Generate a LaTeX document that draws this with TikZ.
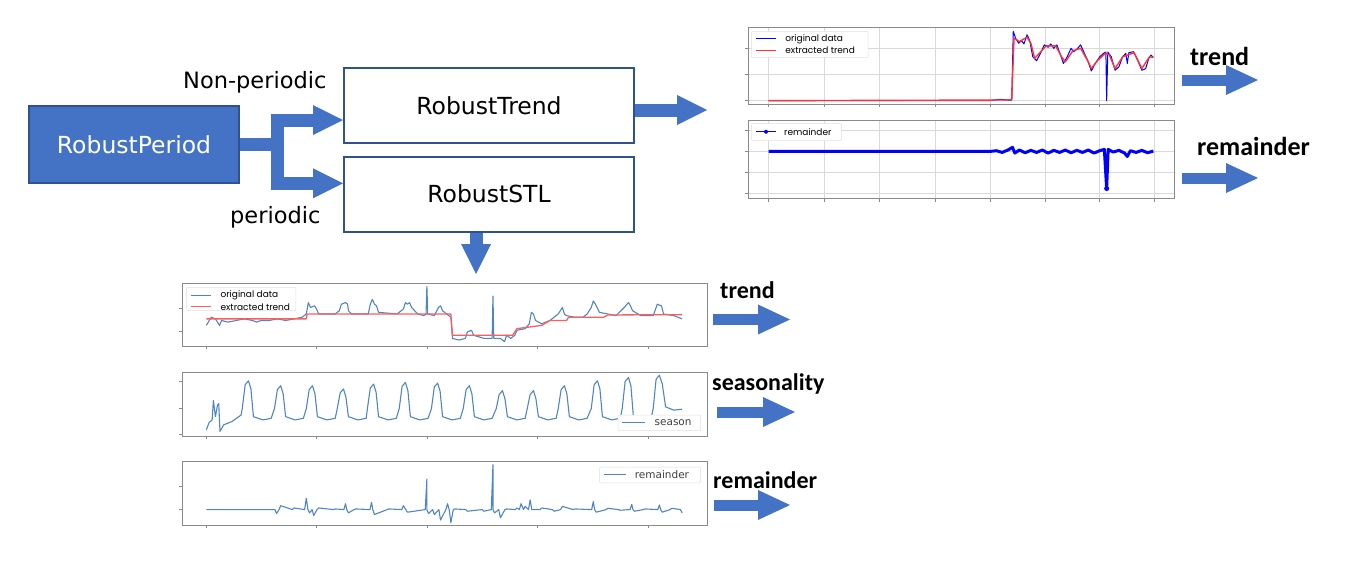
\documentclass[tikz,border=0pt]{standalone}
\usepackage{fontspec}
\usepackage{tikz}
\usetikzlibrary{arrows.meta}
\setmainfont{DejaVu Sans}
\newfontfamily\labelfont{Carlito}
\newfontfamily\legendfont{Poppins}
\definecolor{boxblue}{HTML}{4472C4}
\definecolor{boxedge}{HTML}{2F528F}
\definecolor{mplblue}{HTML}{4F86C2}
\definecolor{mplred}{HTML}{FF5C5C}
\definecolor{framegray}{HTML}{8A8A8A}
\tikzset{
  mainbox/.style={draw=boxedge,fill=boxblue,line width=1.5pt,text=white,
    minimum width=210pt,minimum height=77pt,font=\fontsize{23.5}{27}\selectfont},
  stagebox/.style={draw=boxedge,fill=white,line width=2pt,
    minimum width=290pt,minimum height=75pt,font=\fontsize{23.5}{27}\selectfont},
  branch/.style={anchor=base east,font=\fontsize{22.5}{26}\selectfont},
  blockarrow/.style={draw=boxblue,line width=13pt,
    -{Triangle[length=30pt,width=30pt,line width=0pt]}},
  outarrow/.style={draw=boxblue,line width=11pt,
    -{Triangle[length=32pt,width=30pt,line width=0pt]}},
  outlabel/.style={anchor=base west,inner sep=0pt,font=\labelfont\bfseries\fontsize{26}{30}\selectfont},
  small outlabel/.style={outlabel,font=\labelfont\bfseries\fontsize{24}{28}\selectfont},
  plotframe/.style={draw=framegray,line width=0.8pt},
  gridline/.style={draw=gray!30,line width=0.6pt},
  tick/.style={draw=framegray,line width=0.6pt},
  legendbox/.style={draw=gray!25,fill=white,rounded corners=1pt,line width=0.5pt},
  legendtext/.style={anchor=west,inner sep=0pt,font=\legendfont\fontsize{9}{10}\selectfont},
  mpltext/.style={anchor=west,inner sep=0pt,text=black!75,font=\fontsize{10.5}{12}\selectfont},
  sdata/.style={draw=mplblue,line width=1.1pt,line join=round},
  strend/.style={draw=mplred,line width=1.3pt,line join=round},
  bdata/.style={draw=blue,line width=1pt,line join=round},
  btrend/.style={draw=red!80,line width=1.4pt,line join=round},
  bremain/.style={draw=blue,line width=3pt,line join=round}
}

\begin{document}
\begin{tikzpicture}[x=1pt,y=-1pt]
  \useasboundingbox (0,0) rectangle (1351,565);

  % decomposition blocks
  \node[mainbox] (rp) at (134,144.5) {RobustPeriod};
  \node[stagebox] (rt) at (489,105.5) {RobustTrend};
  \node[stagebox] (stl) at (489,194) {RobustSTL};
  \node[branch] (np) at (330,88) {Non-periodic};
  \node[branch] (pe) at (324,223) {periodic};

  \coordinate (fork) at (277.5,144.5);
  \coordinate (tin) at ([yshift=-14.5pt]rt.west);
  \coordinate (sin) at ([yshift=10.7pt]stl.west);
  \draw[blockarrow] (rp.east) -- (fork) |- (tin);
  \draw[blockarrow] (rp.east) -- (fork) |- (sin);
  \coordinate (tout) at (707,110);
  \draw[blockarrow] ([yshift=-4.5pt]rt.east) -- (tout);
  \coordinate (sout) at (476,274);
  \draw[blockarrow] ([xshift=-13pt]stl.south) -- (sout);

  % RobustTrend output plots
  \begin{scope}[shift={(740,19.56)},x=0.3827pt,y=-0.338pt]
    \foreach \g in {75,220,365,510,655,797,940,1082} {
      \draw[gridline] (\g,22) -- (\g,250);
      \draw[gridline] (\g,298) -- (\g,530);
      \draw[tick] (\g,250) -- (\g,260);
      \draw[tick] (\g,530) -- (\g,540);
    }
    \foreach \g in {85,162,240} {
      \draw[gridline] (22,\g) -- (1135,\g);
      \draw[tick] (12,\g) -- (22,\g);
    }
    \foreach \g in {328,390,452,514} {
      \draw[gridline] (22,\g) -- (1135,\g);
      \draw[tick] (12,\g) -- (22,\g);
    }
    \draw[plotframe] (22,22) rectangle (1135,250);
    \draw[plotframe] (22,298) rectangle (1135,530);

    \draw[bdata] (75,240) -- (650,240) -- (680,236) -- (700,238) -- (710,238)
      -- (714,35) -- (720,55) -- (728,70) -- (735,62) -- (742,72) -- (750,45)
      -- (757,62) -- (765,110) -- (775,122) -- (785,100) -- (795,75) -- (805,82)
      -- (812,72) -- (820,85) -- (828,75) -- (836,100) -- (845,130) -- (855,110)
      -- (865,85) -- (872,95) -- (880,88) -- (890,75) -- (898,95) -- (908,120)
      -- (918,152) -- (928,130) -- (940,110) -- (950,100) -- (956,96) -- (958,240)
      -- (961,96) -- (970,110) -- (980,150) -- (990,140) -- (1000,110) -- (1008,100)
      -- (1012,130) -- (1016,98) -- (1028,95) -- (1038,118) -- (1050,150)
      -- (1060,145) -- (1068,115) -- (1074,105) -- (1080,112);
    \draw[btrend] (75,240) -- (700,238) -- (710,236) -- (716,55) -- (730,65)
      -- (750,52) -- (760,70) -- (770,115) -- (790,90) -- (800,78) -- (825,78)
      -- (840,110) -- (850,125) -- (870,92) -- (890,85) -- (910,125) -- (918,145)
      -- (935,120) -- (955,100) -- (965,105) -- (980,145) -- (1000,110)
      -- (1030,98) -- (1050,145) -- (1070,110) -- (1080,112);
    \draw[bremain] (75,390) -- (655,390)
      \foreach \p/\h in {670/388,685/393,700/386,712/378,718/395,730/386,745/394,
        760/387,775/393,790/386,805/395,820/387,835/393,850/386,865/394,880/387,
        895/393,910/386,925/395,940/388,952/384,958/500,962/384,975/392,990/387,
        1005/395,1012/405,1020/388,1035/393,1050/387,1065/394,1080/389} { -- (\p,\h) };
    \fill[blue] (958,500) circle (2.5pt);

    \draw[legendbox] (30,35) rectangle (335,112);
    \draw[bdata,line width=1.3pt] (42,57) -- (95,57);
    \draw[btrend] (42,92) -- (95,92);
    \node[legendtext] (lgorig) at (118,57) {original data};
    \node[legendtext] (lgtrend) at (118,92) {extracted trend};
    \draw[legendbox] (30,308) rectangle (265,358);
    \draw[bdata,line width=1.3pt] (42,332) -- (95,332);
    \fill[blue] (68,332) circle (2pt);
    \node[legendtext] (lgrem) at (115,332) {remainder};
  \end{scope}

  \coordinate (ta) at (1182,80);
  \coordinate (tb) at (1258,80);
  \draw[outarrow] (ta) -- (tb);
  \node[outlabel] (trendA) at (1190,65) {trend};
  \coordinate (ra) at (1182,178);
  \coordinate (rb) at (1258,178);
  \draw[outarrow] (ra) -- (rb);
  \node[outlabel] (remA) at (1197,155) {remainder};

  % RobustSTL output plots
  \begin{scope}[shift={(170,271.6)},x=0.413pt,y=-0.326pt]
    \draw[plotframe] (30,35) rectangle (1300,228);
    \draw[plotframe] (30,308) rectangle (1300,505);
    \draw[plotframe] (30,583) rectangle (1300,778);
    \foreach \t in {88,355,622,890,1157} {
      \draw[tick] (\t,228) -- (\t,236);
      \draw[tick] (\t,505) -- (\t,513);
      \draw[tick] (\t,778) -- (\t,786);
    }
    \foreach \t in {112,182,338,420,500,660,730}
      \draw[tick] (22,\t) -- (30,\t);

    \draw[sdata] (88,165) -- (95,150) -- (100,140) -- (110,145) -- (120,165)
      -- (125,150) -- (140,155) -- (160,150) -- (180,145) -- (200,150) -- (210,155)
      -- (220,150) -- (240,150) -- (260,145) -- (280,150) -- (300,145) -- (320,140)
      -- (330,130) -- (335,95) -- (340,110) -- (350,105) -- (355,115) -- (360,130)
      -- (400,130) -- (410,120) -- (415,100) -- (425,95) -- (430,100) -- (432,120)
      -- (440,130) -- (480,130) -- (485,100) -- (490,85) -- (495,100) -- (500,105)
      -- (505,125) -- (550,130) -- (565,115) -- (570,95) -- (575,100) -- (580,95)
      -- (585,110) -- (600,130) -- (615,135) -- (620,130) -- (622,45) -- (624,130)
      -- (640,135) -- (650,110) -- (655,105) -- (660,120) -- (670,130) -- (680,140)
      -- (684,205) -- (700,210) -- (715,205) -- (720,185) -- (730,180) -- (735,195)
      -- (760,205) -- (780,205) -- (782,75) -- (784,205) -- (800,205) -- (810,215)
      -- (815,195) -- (825,205) -- (835,195) -- (840,180) -- (860,175) -- (870,160)
      -- (875,125) -- (880,130) -- (885,150) -- (900,160) -- (920,150) -- (930,140)
      -- (940,130) -- (950,110) -- (955,130) -- (960,135) -- (980,140) -- (1000,140)
      -- (1010,130) -- (1020,110) -- (1025,90) -- (1030,100) -- (1040,125)
      -- (1060,130) -- (1080,135) -- (1100,110) -- (1110,95) -- (1115,105)
      -- (1120,120) -- (1140,135) -- (1170,135) -- (1180,100) -- (1190,105)
      -- (1195,130) -- (1220,135) -- (1240,145);
    \draw[strend] (88,145) -- (330,145) -- (332,130) -- (680,130) -- (684,195)
      -- (830,195) -- (840,175) -- (900,165) -- (920,150) -- (960,150) -- (965,140)
      -- (1050,140) -- (1060,133) -- (1240,132);

    \draw[sdata] (88,485) -- (95,462) -- (102,455) -- (105,395) -- (110,445)
      -- (115,410) -- (118,405) -- (121,490) -- (130,470) -- (150,460) -- (172,440)
      \foreach \p/\h in {190/335,268/350,345/350,420/360,493/345,570/340,648/342,
        725/350,805/365,880/365,955/350,1035/335,1110/325}
      { -- ({\p-15},420) -- ({\p-8},{\h+12}) -- (\p,\h) -- ({\p+6},{\h+25})
        -- ({\p+12},445) -- ({\p+35},455) -- ({\p+55},450) }
      -- (1170,420) -- (1177,330) -- (1185,318) -- (1192,345) -- (1200,415)
      -- (1220,425) -- (1240,422);

    \draw[sdata] (88,730) -- (250,730)
      \foreach \p/\h in {258/742,268/718,300/725,330/695,338/740,348/748,360/725,
        400/728,425/712,432/740,450/728,488/708,495/745,530/728,565/718,575/738,
        622/636,626/742,640/745,655/762,672/712,680/770,690/728,720/735,760/735,
        782/592,786/740,800/755,815/728,840/725,850/712,860/720,872/700,880/730,
        900/725,930/735,950/720,980/728,1025/705,1032/738,1060/726,1090/732,
        1118/714,1125/735,1150/728,1185/716,1192/738,1215/726,1240/740}
      { -- ({\p-4},730) -- (\p,\h) };

    \draw[legendbox] (40,48) rectangle (305,120);
    \draw[sdata] (50,72) -- (100,72);
    \draw[strend] (50,108) -- (100,108);
    \node[legendtext] (lgorigB) at (122,72) {original data};
    \node[legendtext] (lgtrendB) at (122,108) {extracted trend};
    \draw[legendbox] (1085,440) rectangle (1285,488);
    \draw[sdata] (1095,462) -- (1150,462);
    \node[mpltext] (lgseason) at (1173,462) {season};
    \draw[legendbox] (1040,600) rectangle (1285,648);
    \draw[sdata] (1050,622) -- (1105,622);
    \node[mpltext] (lgremB) at (1125,622) {remainder};
  \end{scope}

  \coordinate (sa) at (713,319.5);
  \coordinate (sb) at (790,319.5);
  \draw[outarrow] (sa) -- (sb);
  \node[small outlabel] (trendB) at (720,298) {trend};
  \coordinate (qa) at (717,412);
  \coordinate (qb) at (795,412);
  \draw[outarrow] (qa) -- (qb);
  \node[small outlabel] (season) at (712,390) {seasonality};
  \coordinate (ua) at (714,505);
  \coordinate (ub) at (790,505);
  \draw[outarrow] (ua) -- (ub);
  \node[small outlabel] (remB) at (713,488) {remainder};
\end{tikzpicture}
\end{document}
